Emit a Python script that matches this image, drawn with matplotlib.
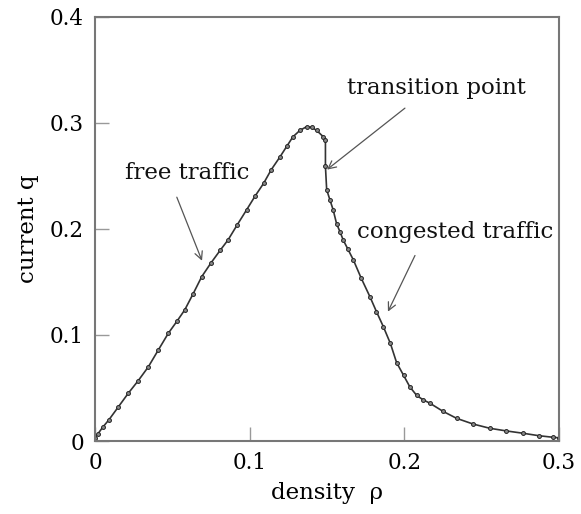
import matplotlib.pyplot as plt

# data
density = [0.0, 0.002, 0.005, 0.009, 0.015, 0.0215, 0.028, 0.0345, 0.041, 0.0474,
           0.053, 0.058, 0.0635, 0.069, 0.075, 0.081, 0.086, 0.092, 0.098, 0.1035,
           0.109, 0.114, 0.1196, 0.124, 0.128, 0.1325, 0.1368, 0.140, 0.1433, 0.1476,
           0.149, 0.149, 0.1498, 0.152, 0.154, 0.1562, 0.1585, 0.1605, 0.1635, 0.167,
           0.172, 0.1778, 0.182, 0.1864, 0.191, 0.195, 0.1995, 0.2036, 0.208, 0.212,
           0.2166, 0.225, 0.2338, 0.2445, 0.2553, 0.266, 0.2769, 0.287, 0.2963, 0.3]
current = [0.003, 0.007, 0.013, 0.020, 0.032, 0.045, 0.057, 0.070, 0.086, 0.1016,
           0.113, 0.1236, 0.139, 0.155, 0.168, 0.180, 0.1896, 0.204, 0.218, 0.231,
           0.243, 0.256, 0.268, 0.278, 0.287, 0.293, 0.2965, 0.296, 0.293, 0.287,
           0.284, 0.259, 0.237, 0.227, 0.218, 0.205, 0.197, 0.1896, 0.181, 0.171,
           0.154, 0.136, 0.122, 0.108, 0.092, 0.074, 0.062, 0.051, 0.043, 0.039,
           0.0356, 0.028, 0.0214, 0.016, 0.012, 0.0095, 0.0073, 0.005, 0.0035, 0.003]

xticks = [0, 0.1, 0.2, 0.3]
xlabels = ["0", "0.1", "0.2", "0.3"]
yticks = [0, 0.1, 0.2, 0.3, 0.4]
ylabels = ["0", "0.1", "0.2", "0.3", "0.4"]

notes = ["free traffic", "transition point", "congested traffic"]
note_text_pos = [(0.0595, 0.253), (0.221, 0.333), (0.2327, 0.197)]
note_tail = [(0.0529, 0.230), (0.2004, 0.314), (0.2069, 0.175)]
note_tip = [(0.0692, 0.170), (0.1500, 0.256), (0.1894, 0.122)]

plt.rcParams['font.family'] = ['DejaVu Serif']
gray = "#777777"

fig = plt.figure(figsize=(5.81, 5.14), dpi=100)
ax = fig.add_axes([0.1635, 0.142, 0.7986, 0.825])

ax.plot(density, current, color="#333333", lw=1.2, marker="o", ms=2.8,
        mfc="#888888", mec="#222222", mew=0.7)

for txt, tp, tail, tip in zip(notes, note_text_pos, note_tail, note_tip):
    ax.text(tp[0], tp[1], txt, ha="center", va="center", fontsize=16.5, color="#111111")
    ax.annotate("", xy=tip, xytext=tail,
                arrowprops=dict(arrowstyle="->", color="#555555", lw=0.9,
                                mutation_scale=14, shrinkA=0, shrinkB=0))

ax.set_xlim(0, 0.3)
ax.set_ylim(0, 0.4)
ax.set_xticks(xticks)
ax.set_xticklabels(xlabels)
ax.set_yticks(yticks)
ax.set_yticklabels(ylabels)
ax.tick_params(direction="in", length=10, width=1.0, color="#999999",
               labelsize=15.5, pad=8, top=False, right=False)
for s in ax.spines.values():
    s.set_color(gray)
    s.set_linewidth(1.5)

ax.set_xlabel("density  ρ", fontsize=16.5, labelpad=6)
ax.set_ylabel("current q", fontsize=16.5, labelpad=8)

fig.savefig("out.png", dpi=100)
